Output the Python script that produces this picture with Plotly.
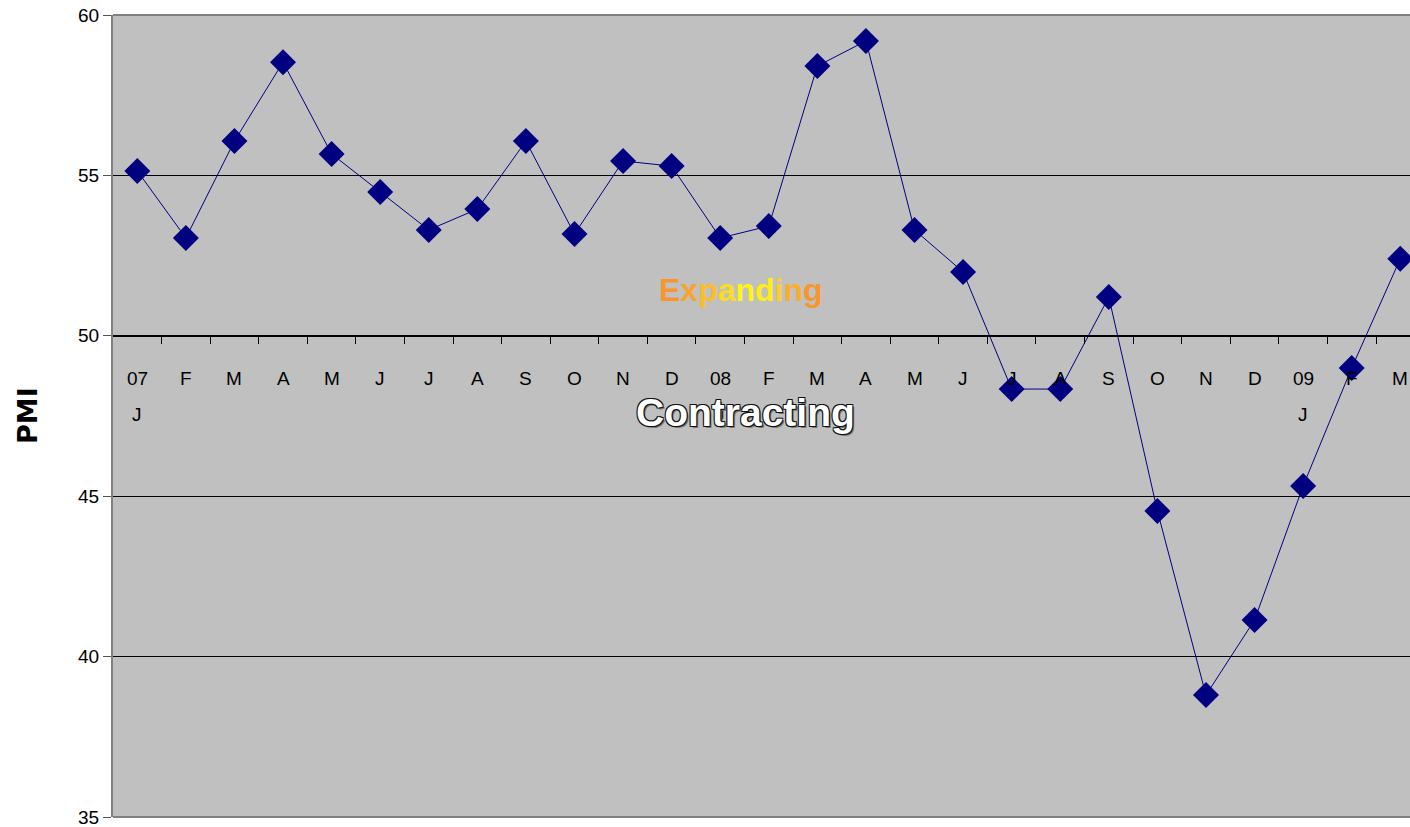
import plotly.graph_objects as go

# Monthly PMI readings, Jan 2007 – Mar 2009
month_labels = ["07", "F", "M", "A", "M", "J", "J", "A", "S", "O", "N", "D",
                "08", "F", "M", "A", "M", "J", "J", "A", "S", "O", "N", "D",
                "09", "F", "M"]
year_month_labels = ["J", "", "", "", "", "", "", "", "", "", "", "",
                     "J", "", "", "", "", "", "", "", "", "", "", "",
                     "J", "", ""]
pmi_values = [55.14, 53.05, 56.07, 58.53, 55.67, 54.48, 53.30, 53.95, 56.07,
              53.17, 55.45, 55.29, 53.05, 53.42, 58.41, 59.19, 53.30, 51.99,
              48.34, 48.34, 51.21, 44.54, 38.80, 41.14, 45.32, 49.00, 52.40]
y_ticks = [35, 40, 45, 50, 55, 60]

x_idx = list(range(len(pmi_values)))
boundaries = [i + 0.5 for i in x_idx]

label_font = dict(family="Liberation Sans, Arial, sans-serif", size=19, color="black")

fig = go.Figure()
fig.add_trace(go.Scatter(
    x=x_idx, y=pmi_values, mode="lines+markers",
    line=dict(color="#000080", width=1),
    marker=dict(symbol="diamond", size=20, color="#000080"),
    showlegend=False, hoverinfo="y",
))

annotations = []
for i, (top, bottom) in enumerate(zip(month_labels, year_month_labels)):
    annotations.append(dict(x=i, y=48.68, xref="x", yref="y", text=top,
                            showarrow=False, font=label_font,
                            xanchor="center", yanchor="middle"))
    if bottom:
        annotations.append(dict(x=i, y=47.56, xref="x", yref="y", text=bottom,
                                showarrow=False, font=label_font,
                                xanchor="center", yanchor="middle"))

# "Expanding" in an orange-to-yellow blend, letter by letter
exp_colors = ["#F7962F", "#F9A42E", "#FBBE2A", "#FDDC20", "#FFF510",
              "#FFEE14", "#FDCF24", "#F9AE2C", "#F7962F"]
exp_text = "".join(f'<span style="color:{c}">{ch}</span>'
                   for ch, c in zip("Expanding", exp_colors))
annotations.append(dict(
    x=12.43, y=51.43, xref="x", yref="y", text=exp_text, showarrow=False,
    font=dict(family="Liberation Sans, Arial, sans-serif", size=32, weight="bold"),
    xanchor="center", yanchor="middle"))

annotations.append(dict(
    x=12.52, y=47.62, xref="x", yref="y", text="Contracting", showarrow=False,
    font=dict(family="Liberation Sans, Arial, sans-serif",
              size=39, weight="bold", color="white",
              shadow="1px 1px 0 #111, -1px -1px 0 #111, 1px -1px 0 #111, -1px 1px 0 #111, 2px 2px 0 #777"),
    xanchor="center", yanchor="middle"))

annotations.append(dict(
    x=(27 - 113) / 1297, y=0.5, xref="paper", yref="paper", text="PMI",
    showarrow=False, textangle=-90,
    font=dict(family="DejaVu Sans, sans-serif", size=27, weight="bold", color="black"),
    xanchor="center", yanchor="middle"))

fig.update_layout(
    width=1410, height=827,
    margin=dict(l=113, r=0, t=15, b=10, pad=0),
    paper_bgcolor="white", plot_bgcolor="#C0C0C0",
    xaxis=dict(
        range=[-0.5, 26.2], anchor="free", position=0.6,
        tickmode="array", tickvals=boundaries, showticklabels=False,
        ticks="outside", ticklen=7, tickcolor="black", tickwidth=1,
        showline=True, linecolor="black", linewidth=1,
        showgrid=False, zeroline=False,
    ),
    yaxis=dict(
        range=[35, 60], tickmode="array", tickvals=y_ticks,
        ticks="outside", ticklen=8, tickcolor="#555555", tickwidth=1,
        tickfont=label_font, ticklabeloverflow="allow",
        showline=True, linecolor="#808080", linewidth=2,
        showgrid=True, gridcolor="black", gridwidth=1, zeroline=False,
    ),
    annotations=annotations,
    shapes=[
        dict(type="line", xref="paper", yref="paper", x0=0, x1=1, y0=1, y1=1,
             line=dict(color="#808080", width=2)),
        dict(type="line", xref="paper", yref="paper", x0=0, x1=1, y0=0, y1=0,
             line=dict(color="#808080", width=2)),
    ],
)

fig.write_html("out.html")
